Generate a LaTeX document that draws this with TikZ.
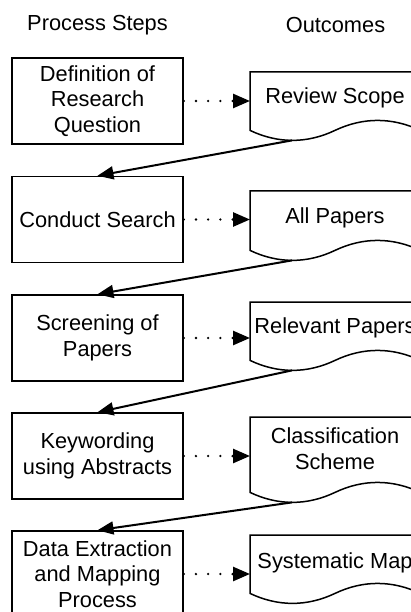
\documentclass[tikz,border=0pt]{standalone}
\usepackage{fontspec}
\setmainfont{Liberation Sans}
\usetikzlibrary{arrows.meta,calc}
\newcommand\drawdocshape[1]{%
  \draw[docline] (#1.south east) -- (#1.north east) -- (#1.north west) -- (#1.south west)
    .. controls ($(#1.south west)+(28,13.3)$) and ($(#1.south west)+(57,13.3)$) .. ($(#1.south west)+(85,0)$)
    .. controls ($(#1.south west)+(113,-13.3)$) and ($(#1.south west)+(142,-13.3)$) .. (#1.south east);
}
\begin{document}
\begin{tikzpicture}[x=1pt,y=-1pt,
  every node/.style={font=\fontsize{21.8}{25.5}\selectfont},
  stepbox/.style={draw, line width=1.5pt, minimum width=171pt, minimum height=86pt, align=center, inner sep=0pt},
  docarea/.style={minimum width=170pt, inner sep=0pt, anchor=north west},
  doctext/.style={align=center, inner sep=0pt},
  docline/.style={line width=1.5pt},
  flow/.style={line width=2pt, -{Triangle[length=16pt,width=13pt]}},
  dotflow/.style={line width=2.6pt, line cap=round, dash pattern=on 0pt off 12.2pt, -{Triangle[length=17pt,width=14pt]}},
  header/.style={inner sep=0pt}]
\useasboundingbox (0,0) rectangle (411,612);
\clip (0,0) rectangle (411,612);

\node[header] (h1) at (97.5,25) {Process Steps};
\node[header] (h2) at (335.5,25) {Outcomes};

\node[stepbox] (b1) at (97.5,101) {Definition of\\Research\\Question};
\node[stepbox] (b2) at (97.5,219.5) {Conduct Search};
\node[stepbox] (b3) at (97.5,338) {Screening of\\Papers};
\node[stepbox] (b4) at (97.5,456) {Keywording\\using Abstracts};
\node[stepbox] (b5) at (97.5,574) {Data Extraction\\and Mapping\\Process};

\node[docarea, minimum height=58pt] (d1) at (250,72) {};
\node[docarea, minimum height=59pt] (d2) at (250,191) {};
\node[docarea, minimum height=58pt] (d3) at (250,302) {};
\node[docarea, minimum height=75pt] (d4) at (250,417) {};
\node[docarea, minimum height=58pt] (d5) at (250,535) {};

\drawdocshape{d1}
\drawdocshape{d2}
\drawdocshape{d3}
\drawdocshape{d4}
\drawdocshape{d5}

\node[doctext, anchor=base] (t1) at (335,104) {Review Scope};
\node[doctext, anchor=base] (t2) at (335,223.3) {All Papers};
\node[doctext, anchor=base] (t3) at (335,333.5) {Relevant Papers};
\node[doctext] (t4) at (335,448.5) {Classification\\Scheme};
\node[doctext, anchor=base] (t5) at (335,568.3) {Systematic Map};

\foreach \i in {1,...,5} {
  \coordinate (w\i) at ($(d\i.south west)+(42,10)$);
  \draw[dotflow] (b\i.east) -- (b\i.east -| d\i.west);
}
\draw[flow] (w1) -- (b2.north);
\draw[flow] (w2) -- (b3.north);
\draw[flow] (w3) -- (b4.north);
\draw[flow] (w4) -- (b5.north);
\end{tikzpicture}
\end{document}
